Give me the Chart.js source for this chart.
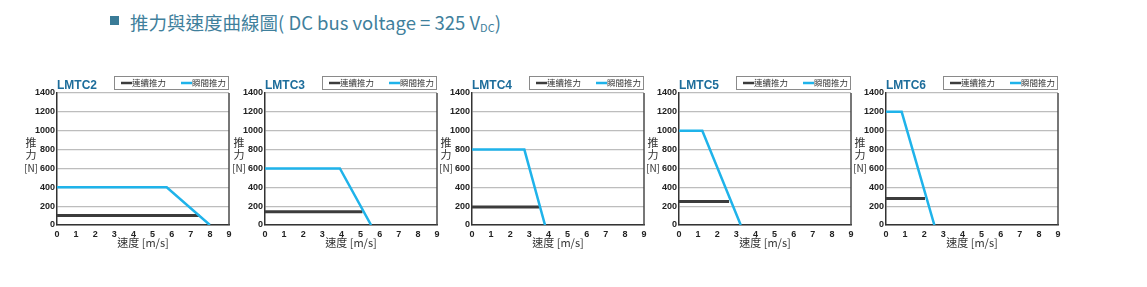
<!DOCTYPE html>
<html>
<head>
<meta charset="utf-8">
<script src="https://cdn.jsdelivr.net/npm/chart.js@4.4.0/dist/chart.umd.min.js"></script>
<style>
  body { margin: 0; width: 1147px; height: 287px; background: #fff; position: relative; overflow: hidden; }
  .mark { position: absolute; left: 110px; top: 16px; width: 9px; height: 9px; background: #3a7b97; }
  .heading { position: absolute; left: 130px; top: 12px; font: 18.5px/20px "Noto Sans CJK TC", sans-serif; color: #3f809c; white-space: nowrap; }
  .heading sub { font-size: 11px; vertical-align: -2px; }
  canvas { position: absolute; }
</style>
</head>
<body>
<div class="mark"></div>
<div class="heading">推力與速度曲線圖( DC bus voltage = 325 V<sub>DC</sub>)</div>

<script>
// 機種
const models = ['LMTC2', 'LMTC3', 'LMTC4', 'LMTC5', 'LMTC6'];
// 軸刻度
const speedTicks = [0, 1, 2, 3, 4, 5, 6, 7, 8, 9];
const forceTicks = [0, 200, 400, 600, 800, 1000, 1200, 1400];

// 連續推力 (N) 與其最高速度 (m/s)
const contForce = [100, 140, 190, 250, 280];
const contSpeed = [7.45, 5.1, 3.52, 2.62, 2.04];

// 瞬間推力 (N), 轉折點速度, 歸零速度 (m/s)
const peakForce = [400, 600, 800, 1000, 1200];
const peakKnee = [5.74, 3.92, 2.74, 1.22, 0.82];
const peakEnd = [8.0, 5.55, 3.82, 3.23, 2.53];

// 每張圖的繪圖區左邊位置
const plotLefts = [57, 265, 472, 679, 886];

// 框線、型號、Y 軸標題、圖例
const decor = {
    id: 'decor',
    afterDraw(chart, args, opts) {
        const { ctx, chartArea: a } = chart;
        const yScale = chart.scales.y;
        ctx.save();

        // 右側框線
        ctx.strokeStyle = '#4a4a4a';
        ctx.lineWidth = 1.5;
        ctx.beginPath();
        ctx.moveTo(a.right, a.top);
        ctx.lineTo(a.right, a.bottom);
        ctx.stroke();

        // 型號
        ctx.fillStyle = '#1d6d9b';
        ctx.font = 'bold 12px "Liberation Sans", sans-serif';
        ctx.textAlign = 'left';
        ctx.textBaseline = 'alphabetic';
        ctx.fillText(opts.name, a.left, a.top - 4);

        // Y 軸標題 (直排)
        const p600 = yScale.getPixelForValue(600);
        const cx = a.left - 26;
        ctx.fillStyle = '#333';
        ctx.textAlign = 'center';
        ctx.textBaseline = 'middle';
        ctx.font = '11px "Noto Sans CJK TC", sans-serif';
        ctx.fillText('推', cx, p600 - 26);
        ctx.fillText('力', cx, p600 - 14);
        ctx.font = '10px "Noto Sans CJK TC", sans-serif';
        ctx.fillText('[N]', cx, p600);

        // 圖例
        const bx = a.left + 57, by = a.top - 17, bw = a.right - bx, bh = 13;
        ctx.strokeStyle = '#8a8a8a';
        ctx.lineWidth = 1;
        ctx.strokeRect(bx + 0.5, by + 0.5, bw - 1, bh);
        ctx.font = '8.5px "Noto Sans CJK TC", sans-serif';
        ctx.textAlign = 'left';
        let x = bx + 7;
        const my = by + bh / 2 + 0.5;
        chart.data.datasets.forEach(ds => {
            ctx.strokeStyle = ds.borderColor;
            ctx.lineWidth = 2.5;
            ctx.beginPath();
            ctx.moveTo(x, my);
            ctx.lineTo(x + 11, my);
            ctx.stroke();
            x += 11;
            ctx.fillStyle = '#333';
            ctx.fillText(ds.label, x, my);
            x += ctx.measureText(ds.label).width + 15;
        });

        ctx.restore();
    }
};

const tickFont = { family: '"Liberation Sans", sans-serif', size: 9, weight: 'bold' };

models.forEach((name, i) => {
    const canvas = document.createElement('canvas');
    canvas.style.left = (plotLefts[i] - 40) + 'px';
    canvas.style.top = '70px';
    canvas.style.width = '215px';
    canvas.style.height = '190px';
    canvas.width = 215;
    canvas.height = 190;
    document.body.appendChild(canvas);

    new Chart(canvas, {
        type: 'line',
        data: {
            datasets: [
                {
                    label: '連續推力',
                    data: [{ x: 0, y: contForce[i] }, { x: contSpeed[i], y: contForce[i] }],
                    borderColor: '#3c3c3c',
                    borderWidth: 3,
                    order: 1
                },
                {
                    label: '瞬間推力',
                    data: [{ x: 0, y: peakForce[i] }, { x: peakKnee[i], y: peakForce[i] }, { x: peakEnd[i], y: 0 }],
                    borderColor: '#1fb3ea',
                    borderWidth: 2.5,
                    order: 0
                }
            ]
        },
        options: {
            responsive: false,
            animation: false,
            devicePixelRatio: 1,
            layout: { padding: { top: 23, right: 3, bottom: 0, left: 0 } },
            elements: {
                point: { radius: 0 },
                line: { tension: 0, fill: false, borderCapStyle: 'butt' }
            },
            plugins: {
                legend: { display: false },
                tooltip: { enabled: false },
                decor: { name: name }
            },
            scales: {
                x: {
                    type: 'linear',
                    min: speedTicks[0],
                    max: speedTicks[speedTicks.length - 1],
                    afterBuildTicks: s => { s.ticks = speedTicks.map(v => ({ value: v })); },
                    afterFit: s => { s.height = 35; s.paddingLeft = 0; s.paddingRight = 0; },
                    grid: { display: false, drawTicks: false },
                    border: { color: '#333', width: 1.5 },
                    ticks: {
                        padding: 4,
                        color: '#222',
                        font: tickFont,
                        callback: v => String(v)
                    },
                    title: {
                        display: true,
                        text: '速度 [m/s]',
                        color: '#333',
                        padding: { top: 0, bottom: 11 },
                        font: { family: '"Noto Sans CJK TC", sans-serif', size: 11 }
                    }
                },
                y: {
                    min: forceTicks[0],
                    max: forceTicks[forceTicks.length - 1],
                    afterBuildTicks: s => { s.ticks = forceTicks.map(v => ({ value: v })); },
                    afterFit: s => { s.width = 40; s.paddingTop = 0; s.paddingBottom = 0; },
                    grid: { color: '#bdbdbd', lineWidth: 1.2, drawTicks: false },
                    border: { color: '#333', width: 1.5 },
                    ticks: {
                        padding: 2,
                        color: '#222',
                        font: tickFont,
                        callback: v => String(v)
                    }
                }
            }
        },
        plugins: [decor]
    });
});
</script>
</body>
</html>
